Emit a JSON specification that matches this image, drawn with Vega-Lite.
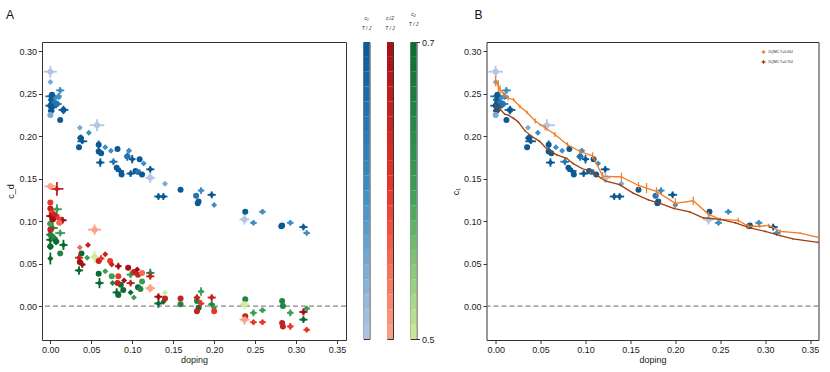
{
"$schema":"https://vega.github.io/schema/vega-lite/v6.json",
"padding":{"left":5,"top":8,"right":5,"bottom":5},
"bounds":"flush",
"spacing":17.5,
"resolve":{"scale":{"color":"independent","x":"independent","y":"independent"},"legend":{"color":"independent"}},
"config":{"font":"Liberation Sans","view":{"stroke":"#333","strokeWidth":1},"axis":{"domain":false,"grid":false,"tickColor":"#333","tickSize":3.5,"labelFont":"Liberation Sans","labelFontSize":9,"labelColor":"#222","titleFont":"Liberation Sans","titleFontSize":9,"titleFontWeight":"normal","titleColor":"#222","labelPadding":2},"legend":{"padding":0}},
"datasets":{
"cb":[
{"lo":0.50,"hi":0.51,"v":0.505},{"lo":0.51,"hi":0.52,"v":0.515},{"lo":0.52,"hi":0.53,"v":0.525},{"lo":0.53,"hi":0.54,"v":0.535},
{"lo":0.54,"hi":0.55,"v":0.545},{"lo":0.55,"hi":0.56,"v":0.555},{"lo":0.56,"hi":0.57,"v":0.565},{"lo":0.57,"hi":0.58,"v":0.575},
{"lo":0.58,"hi":0.59,"v":0.585},{"lo":0.59,"hi":0.60,"v":0.595},{"lo":0.60,"hi":0.61,"v":0.605},{"lo":0.61,"hi":0.62,"v":0.615},
{"lo":0.62,"hi":0.63,"v":0.625},{"lo":0.63,"hi":0.64,"v":0.635},{"lo":0.64,"hi":0.65,"v":0.645},{"lo":0.65,"hi":0.66,"v":0.655},
{"lo":0.66,"hi":0.67,"v":0.665},{"lo":0.67,"hi":0.68,"v":0.675},{"lo":0.68,"hi":0.69,"v":0.685},{"lo":0.69,"hi":0.70,"v":0.695}
],
"c1":[
{"d":0.000,"c":0.276,"T":0.5,"m":"o","ex":0.008,"ey":0.007},
{"d":0.000,"c":0.264,"T":0.55,"m":"D","ex":0,"ey":0},
{"d":0.000,"c":0.247,"T":0.65,"m":"D","ex":0.006,"ey":0.004},
{"d":0.002,"c":0.243,"T":0.7,"m":"o","ex":0.005,"ey":0.006},
{"d":0.004,"c":0.240,"T":0.65,"m":"D","ex":0.006,"ey":0.004},
{"d":0.000,"c":0.236,"T":0.7,"m":"o","ex":0.006,"ey":0.005},
{"d":0.003,"c":0.234,"T":0.7,"m":"D","ex":0.005,"ey":0.004},
{"d":0.001,"c":0.230,"T":0.7,"m":"o","ex":0.004,"ey":0.006},
{"d":0.006,"c":0.245,"T":0.6,"m":"D","ex":0.007,"ey":0.004},
{"d":0.008,"c":0.238,"T":0.65,"m":"o","ex":0.006,"ey":0.004},
{"d":0.010,"c":0.247,"T":0.6,"m":"D","ex":0.004,"ey":0.004},
{"d":0.000,"c":0.225,"T":0.55,"m":"o","ex":0,"ey":0},
{"d":0.002,"c":0.249,"T":0.7,"m":"o","ex":0,"ey":0},
{"d":0.012,"c":0.254,"T":0.6,"m":"D","ex":0.005,"ey":0.004},
{"d":0.016,"c":0.231,"T":0.7,"m":"o","ex":0.006,"ey":0.005},
{"d":0.012,"c":0.219,"T":0.7,"m":"o","ex":0,"ey":0},
{"d":0.036,"c":0.210,"T":0.55,"m":"D","ex":0,"ey":0},
{"d":0.057,"c":0.213,"T":0.5,"m":"o","ex":0.009,"ey":0.007},
{"d":0.047,"c":0.204,"T":0.6,"m":"D","ex":0,"ey":0},
{"d":0.037,"c":0.198,"T":0.7,"m":"o","ex":0.004,"ey":0.004},
{"d":0.039,"c":0.194,"T":0.7,"m":"D","ex":0.006,"ey":0.003},
{"d":0.035,"c":0.187,"T":0.7,"m":"o","ex":0,"ey":0},
{"d":0.059,"c":0.190,"T":0.7,"m":"o","ex":0.002,"ey":0.005},
{"d":0.059,"c":0.182,"T":0.7,"m":"o","ex":0,"ey":0},
{"d":0.062,"c":0.180,"T":0.7,"m":"o","ex":0,"ey":0},
{"d":0.061,"c":0.169,"T":0.7,"m":"D","ex":0.005,"ey":0.005},
{"d":0.067,"c":0.187,"T":0.6,"m":"D","ex":0,"ey":0},
{"d":0.074,"c":0.183,"T":0.6,"m":"D","ex":0,"ey":0},
{"d":0.082,"c":0.185,"T":0.7,"m":"o","ex":0,"ey":0},
{"d":0.077,"c":0.170,"T":0.65,"m":"D","ex":0.005,"ey":0.004},
{"d":0.081,"c":0.163,"T":0.7,"m":"o","ex":0,"ey":0},
{"d":0.085,"c":0.159,"T":0.7,"m":"D","ex":0.005,"ey":0.004},
{"d":0.087,"c":0.155,"T":0.7,"m":"o","ex":0,"ey":0},
{"d":0.096,"c":0.183,"T":0.6,"m":"D","ex":0.003,"ey":0.003},
{"d":0.094,"c":0.176,"T":0.65,"m":"o","ex":0.004,"ey":0.005},
{"d":0.100,"c":0.173,"T":0.7,"m":"D","ex":0.004,"ey":0.005},
{"d":0.109,"c":0.173,"T":0.7,"m":"o","ex":0,"ey":0},
{"d":0.098,"c":0.156,"T":0.7,"m":"D","ex":0.005,"ey":0.004},
{"d":0.104,"c":0.159,"T":0.7,"m":"o","ex":0,"ey":0},
{"d":0.107,"c":0.158,"T":0.65,"m":"o","ex":0,"ey":0},
{"d":0.114,"c":0.168,"T":0.6,"m":"D","ex":0,"ey":0},
{"d":0.112,"c":0.155,"T":0.7,"m":"o","ex":0,"ey":0},
{"d":0.122,"c":0.161,"T":0.7,"m":"D","ex":0.005,"ey":0.004},
{"d":0.122,"c":0.151,"T":0.5,"m":"o","ex":0.006,"ey":0.006},
{"d":0.140,"c":0.144,"T":0.55,"m":"D","ex":0,"ey":0},
{"d":0.132,"c":0.129,"T":0.7,"m":"D","ex":0.005,"ey":0.004},
{"d":0.138,"c":0.129,"T":0.7,"m":"D","ex":0.005,"ey":0.004},
{"d":0.159,"c":0.137,"T":0.7,"m":"o","ex":0,"ey":0},
{"d":0.178,"c":0.130,"T":0.65,"m":"o","ex":0.003,"ey":0.003},
{"d":0.184,"c":0.136,"T":0.6,"m":"D","ex":0.004,"ey":0.004},
{"d":0.181,"c":0.123,"T":0.7,"m":"o","ex":0,"ey":0},
{"d":0.180,"c":0.121,"T":0.7,"m":"o","ex":0,"ey":0},
{"d":0.197,"c":0.131,"T":0.7,"m":"D","ex":0.005,"ey":0.004},
{"d":0.200,"c":0.119,"T":0.6,"m":"D","ex":0,"ey":0},
{"d":0.238,"c":0.111,"T":0.7,"m":"o","ex":0,"ey":0},
{"d":0.237,"c":0.102,"T":0.5,"m":"o","ex":0.006,"ey":0.006},
{"d":0.248,"c":0.098,"T":0.6,"m":"D","ex":0.004,"ey":0.003},
{"d":0.259,"c":0.111,"T":0.6,"m":"D","ex":0.004,"ey":0.003},
{"d":0.283,"c":0.095,"T":0.7,"m":"o","ex":0,"ey":0},
{"d":0.282,"c":0.094,"T":0.7,"m":"o","ex":0,"ey":0},
{"d":0.293,"c":0.098,"T":0.6,"m":"D","ex":0.004,"ey":0.003},
{"d":0.309,"c":0.093,"T":0.7,"m":"D","ex":0.005,"ey":0.004},
{"d":0.313,"c":0.086,"T":0.6,"m":"D","ex":0.004,"ey":0.003}
],
"c2":[
{"d":0.000,"c":0.141,"T":0.5,"m":"o","ex":0.007,"ey":0.004},
{"d":0.008,"c":0.138,"T":0.65,"m":"D","ex":0.008,"ey":0.008},
{"d":0.000,"c":0.122,"T":0.6,"m":"o","ex":0,"ey":0},
{"d":0.000,"c":0.115,"T":0.65,"m":"o","ex":0,"ey":0},
{"d":0.002,"c":0.110,"T":0.6,"m":"o","ex":0.004,"ey":0.004},
{"d":0.000,"c":0.106,"T":0.7,"m":"D","ex":0.005,"ey":0.004},
{"d":0.005,"c":0.107,"T":0.65,"m":"o","ex":0.006,"ey":0.004},
{"d":0.009,"c":0.104,"T":0.6,"m":"D","ex":0.006,"ey":0.004},
{"d":0.003,"c":0.102,"T":0.7,"m":"o","ex":0.004,"ey":0.003},
{"d":0.015,"c":0.101,"T":0.7,"m":"D","ex":0.005,"ey":0.004},
{"d":0.011,"c":0.098,"T":0.55,"m":"o","ex":0.004,"ey":0.003},
{"d":0.000,"c":0.090,"T":0.65,"m":"o","ex":0,"ey":0},
{"d":0.054,"c":0.090,"T":0.5,"m":"o","ex":0.008,"ey":0.006},
{"d":0.036,"c":0.069,"T":0.55,"m":"D","ex":0,"ey":0},
{"d":0.046,"c":0.072,"T":0.65,"m":"D","ex":0,"ey":0},
{"d":0.035,"c":0.057,"T":0.65,"m":"D","ex":0.005,"ey":0.004},
{"d":0.036,"c":0.052,"T":0.7,"m":"o","ex":0,"ey":0},
{"d":0.039,"c":0.049,"T":0.7,"m":"D","ex":0.004,"ey":0.004},
{"d":0.059,"c":0.053,"T":0.65,"m":"o","ex":0,"ey":0},
{"d":0.062,"c":0.056,"T":0.6,"m":"D","ex":0.004,"ey":0.004},
{"d":0.067,"c":0.061,"T":0.65,"m":"D","ex":0,"ey":0},
{"d":0.073,"c":0.053,"T":0.6,"m":"o","ex":0,"ey":0},
{"d":0.075,"c":0.049,"T":0.65,"m":"D","ex":0,"ey":0},
{"d":0.083,"c":0.047,"T":0.7,"m":"D","ex":0.004,"ey":0.004},
{"d":0.083,"c":0.035,"T":0.6,"m":"o","ex":0,"ey":0},
{"d":0.082,"c":0.027,"T":0.65,"m":"o","ex":0,"ey":0},
{"d":0.090,"c":0.030,"T":0.7,"m":"D","ex":0,"ey":0},
{"d":0.095,"c":0.045,"T":0.7,"m":"o","ex":0,"ey":0},
{"d":0.098,"c":0.027,"T":0.65,"m":"D","ex":0.005,"ey":0.004},
{"d":0.102,"c":0.040,"T":0.65,"m":"o","ex":0,"ey":0},
{"d":0.106,"c":0.043,"T":0.7,"m":"D","ex":0,"ey":0},
{"d":0.107,"c":0.037,"T":0.65,"m":"o","ex":0,"ey":0},
{"d":0.112,"c":0.039,"T":0.55,"m":"o","ex":0.003,"ey":0.003},
{"d":0.122,"c":0.035,"T":0.65,"m":"D","ex":0.005,"ey":0.004},
{"d":0.122,"c":0.021,"T":0.5,"m":"o","ex":0.006,"ey":0.005},
{"d":0.132,"c":0.011,"T":0.7,"m":"D","ex":0.005,"ey":0.004},
{"d":0.140,"c":0.009,"T":0.65,"m":"o","ex":0,"ey":0},
{"d":0.159,"c":0.009,"T":0.65,"m":"o","ex":0,"ey":0},
{"d":0.179,"c":0.010,"T":0.65,"m":"D","ex":0.004,"ey":0.004},
{"d":0.179,"c":-0.006,"T":0.65,"m":"o","ex":0,"ey":0},
{"d":0.184,"c":0.003,"T":0.6,"m":"D","ex":0.004,"ey":0.004},
{"d":0.197,"c":0.010,"T":0.65,"m":"D","ex":0.005,"ey":0.004},
{"d":0.200,"c":-0.006,"T":0.6,"m":"o","ex":0,"ey":0},
{"d":0.238,"c":-0.012,"T":0.65,"m":"o","ex":0,"ey":0},
{"d":0.237,"c":-0.016,"T":0.5,"m":"o","ex":0.006,"ey":0.006},
{"d":0.248,"c":-0.019,"T":0.6,"m":"D","ex":0.004,"ey":0.003},
{"d":0.259,"c":-0.019,"T":0.6,"m":"D","ex":0.004,"ey":0.003},
{"d":0.283,"c":-0.020,"T":0.65,"m":"o","ex":0,"ey":0},
{"d":0.284,"c":-0.024,"T":0.65,"m":"o","ex":0,"ey":0},
{"d":0.293,"c":-0.024,"T":0.6,"m":"D","ex":0.004,"ey":0.004},
{"d":0.309,"c":-0.007,"T":0.7,"m":"D","ex":0.005,"ey":0.004},
{"d":0.313,"c":-0.028,"T":0.6,"m":"D","ex":0.004,"ey":0.003}
],
"c3":[
{"d":0.008,"c":0.114,"T":0.6,"m":"D","ex":0.006,"ey":0.006},
{"d":0.000,"c":0.097,"T":0.6,"m":"o","ex":0.004,"ey":0.004},
{"d":0.003,"c":0.092,"T":0.65,"m":"D","ex":0.006,"ey":0.004},
{"d":0.000,"c":0.084,"T":0.65,"m":"o","ex":0.005,"ey":0.003},
{"d":0.000,"c":0.078,"T":0.7,"m":"D","ex":0.005,"ey":0.005},
{"d":0.004,"c":0.080,"T":0.65,"m":"o","ex":0.005,"ey":0.004},
{"d":0.000,"c":0.070,"T":0.7,"m":"o","ex":0.004,"ey":0.004},
{"d":0.000,"c":0.056,"T":0.7,"m":"D","ex":0.003,"ey":0.007},
{"d":0.012,"c":0.086,"T":0.6,"m":"D","ex":0.006,"ey":0.004},
{"d":0.016,"c":0.072,"T":0.7,"m":"D","ex":0.005,"ey":0.006},
{"d":0.012,"c":0.062,"T":0.65,"m":"o","ex":0,"ey":0},
{"d":0.007,"c":0.076,"T":0.7,"m":"o","ex":0.004,"ey":0.004},
{"d":0.038,"c":0.062,"T":0.7,"m":"o","ex":0,"ey":0},
{"d":0.045,"c":0.057,"T":0.6,"m":"D","ex":0,"ey":0},
{"d":0.054,"c":0.058,"T":0.5,"m":"o","ex":0.005,"ey":0.007},
{"d":0.035,"c":0.042,"T":0.7,"m":"D","ex":0.005,"ey":0.005},
{"d":0.059,"c":0.038,"T":0.7,"m":"o","ex":0,"ey":0},
{"d":0.060,"c":0.027,"T":0.7,"m":"D","ex":0.005,"ey":0.006},
{"d":0.067,"c":0.041,"T":0.6,"m":"D","ex":0,"ey":0},
{"d":0.075,"c":0.035,"T":0.6,"m":"o","ex":0,"ey":0},
{"d":0.076,"c":0.027,"T":0.65,"m":"D","ex":0,"ey":0},
{"d":0.081,"c":0.016,"T":0.7,"m":"D","ex":0.005,"ey":0.005},
{"d":0.086,"c":0.025,"T":0.7,"m":"o","ex":0,"ey":0},
{"d":0.083,"c":0.013,"T":0.7,"m":"o","ex":0,"ey":0},
{"d":0.089,"c":0.019,"T":0.7,"m":"o","ex":0,"ey":0},
{"d":0.098,"c":0.037,"T":0.6,"m":"D","ex":0.005,"ey":0.004},
{"d":0.098,"c":0.016,"T":0.7,"m":"D","ex":0,"ey":0},
{"d":0.102,"c":0.010,"T":0.6,"m":"D","ex":0,"ey":0},
{"d":0.107,"c":0.022,"T":0.7,"m":"o","ex":0,"ey":0},
{"d":0.110,"c":0.020,"T":0.65,"m":"o","ex":0,"ey":0},
{"d":0.112,"c":0.029,"T":0.6,"m":"o","ex":0,"ey":0},
{"d":0.122,"c":0.039,"T":0.65,"m":"D","ex":0.005,"ey":0.005},
{"d":0.132,"c":0.003,"T":0.7,"m":"D","ex":0.005,"ey":0.005},
{"d":0.140,"c":0.016,"T":0.5,"m":"D","ex":0,"ey":0},
{"d":0.138,"c":0.005,"T":0.7,"m":"D","ex":0,"ey":0},
{"d":0.159,"c":0.002,"T":0.65,"m":"o","ex":0,"ey":0},
{"d":0.179,"c":0.006,"T":0.65,"m":"o","ex":0,"ey":0},
{"d":0.184,"c":0.017,"T":0.6,"m":"D","ex":0.004,"ey":0.005},
{"d":0.181,"c":-0.002,"T":0.7,"m":"o","ex":0,"ey":0},
{"d":0.197,"c":0.002,"T":0.65,"m":"D","ex":0.004,"ey":0.004},
{"d":0.200,"c":-0.002,"T":0.6,"m":"D","ex":0,"ey":0},
{"d":0.238,"c":0.008,"T":0.65,"m":"o","ex":0,"ey":0},
{"d":0.237,"c":0.002,"T":0.5,"m":"o","ex":0.006,"ey":0.006},
{"d":0.248,"c":-0.008,"T":0.6,"m":"D","ex":0.004,"ey":0.004},
{"d":0.259,"c":-0.005,"T":0.6,"m":"D","ex":0.004,"ey":0.003},
{"d":0.283,"c":0.006,"T":0.65,"m":"o","ex":0,"ey":0},
{"d":0.284,"c":0.000,"T":0.65,"m":"o","ex":0,"ey":0},
{"d":0.293,"c":-0.008,"T":0.6,"m":"D","ex":0.004,"ey":0.004},
{"d":0.309,"c":-0.016,"T":0.7,"m":"D","ex":0.005,"ey":0.004},
{"d":0.313,"c":-0.003,"T":0.6,"m":"D","ex":0.004,"ey":0.003}
],
"dqmc":[
{"s":"DQMC T=0.60J","d":0.000,"c":0.265,"e":0.006},
{"s":"DQMC T=0.60J","d":0.003,"c":0.259,"e":0.007},
{"s":"DQMC T=0.60J","d":0.005,"c":0.255,"e":0.005},
{"s":"DQMC T=0.60J","d":0.009,"c":0.249,"e":0.003},
{"s":"DQMC T=0.60J","d":0.014,"c":0.245,"e":0.003},
{"s":"DQMC T=0.60J","d":0.020,"c":0.243,"e":0.002},
{"s":"DQMC T=0.60J","d":0.027,"c":0.235,"e":0.002},
{"s":"DQMC T=0.60J","d":0.035,"c":0.228,"e":0.002},
{"s":"DQMC T=0.60J","d":0.044,"c":0.218,"e":0.003},
{"s":"DQMC T=0.60J","d":0.055,"c":0.210,"e":0.003},
{"s":"DQMC T=0.60J","d":0.066,"c":0.202,"e":0.003},
{"s":"DQMC T=0.60J","d":0.080,"c":0.190,"e":0.003},
{"s":"DQMC T=0.60J","d":0.094,"c":0.182,"e":0.003},
{"s":"DQMC T=0.60J","d":0.108,"c":0.177,"e":0.004},
{"s":"DQMC T=0.60J","d":0.119,"c":0.153,"e":0.005},
{"s":"DQMC T=0.60J","d":0.140,"c":0.152,"e":0.005},
{"s":"DQMC T=0.60J","d":0.159,"c":0.142,"e":0.004},
{"s":"DQMC T=0.60J","d":0.168,"c":0.139,"e":0.006},
{"s":"DQMC T=0.60J","d":0.179,"c":0.135,"e":0.005},
{"s":"DQMC T=0.60J","d":0.200,"c":0.121,"e":0.006},
{"s":"DQMC T=0.60J","d":0.220,"c":0.124,"e":0.005},
{"s":"DQMC T=0.60J","d":0.237,"c":0.108,"e":0.003},
{"s":"DQMC T=0.60J","d":0.250,"c":0.102,"e":0.002},
{"s":"DQMC T=0.60J","d":0.270,"c":0.101,"e":0.003},
{"s":"DQMC T=0.60J","d":0.281,"c":0.094,"e":0.003},
{"s":"DQMC T=0.60J","d":0.294,"c":0.094,"e":0.002},
{"s":"DQMC T=0.60J","d":0.304,"c":0.095,"e":0.002},
{"s":"DQMC T=0.60J","d":0.317,"c":0.088,"e":0.002},
{"s":"DQMC T=0.60J","d":0.339,"c":0.086,"e":0.001},
{"s":"DQMC T=0.60J","d":0.359,"c":0.081,"e":0.001},
{"s":"DQMC T=0.70J","d":0.000,"c":0.235,"e":0.003},
{"s":"DQMC T=0.70J","d":0.005,"c":0.232,"e":0.002},
{"s":"DQMC T=0.70J","d":0.010,"c":0.226,"e":0.001},
{"s":"DQMC T=0.70J","d":0.014,"c":0.225,"e":0.001},
{"s":"DQMC T=0.70J","d":0.020,"c":0.221,"e":0.001},
{"s":"DQMC T=0.70J","d":0.025,"c":0.217,"e":0.001},
{"s":"DQMC T=0.70J","d":0.033,"c":0.206,"e":0.001},
{"s":"DQMC T=0.70J","d":0.040,"c":0.200,"e":0.001},
{"s":"DQMC T=0.70J","d":0.049,"c":0.194,"e":0.001},
{"s":"DQMC T=0.70J","d":0.057,"c":0.185,"e":0.001},
{"s":"DQMC T=0.70J","d":0.068,"c":0.178,"e":0.001},
{"s":"DQMC T=0.70J","d":0.079,"c":0.174,"e":0.001},
{"s":"DQMC T=0.70J","d":0.086,"c":0.168,"e":0.001},
{"s":"DQMC T=0.70J","d":0.096,"c":0.162,"e":0.001},
{"s":"DQMC T=0.70J","d":0.106,"c":0.159,"e":0.001},
{"s":"DQMC T=0.70J","d":0.114,"c":0.153,"e":0.001},
{"s":"DQMC T=0.70J","d":0.123,"c":0.147,"e":0.001},
{"s":"DQMC T=0.70J","d":0.138,"c":0.143,"e":0.001},
{"s":"DQMC T=0.70J","d":0.153,"c":0.133,"e":0.001},
{"s":"DQMC T=0.70J","d":0.170,"c":0.125,"e":0.001},
{"s":"DQMC T=0.70J","d":0.183,"c":0.121,"e":0.001},
{"s":"DQMC T=0.70J","d":0.198,"c":0.115,"e":0.001},
{"s":"DQMC T=0.70J","d":0.216,"c":0.111,"e":0.001},
{"s":"DQMC T=0.70J","d":0.231,"c":0.104,"e":0.001},
{"s":"DQMC T=0.70J","d":0.250,"c":0.102,"e":0.001},
{"s":"DQMC T=0.70J","d":0.267,"c":0.098,"e":0.001},
{"s":"DQMC T=0.70J","d":0.283,"c":0.092,"e":0.001},
{"s":"DQMC T=0.70J","d":0.300,"c":0.088,"e":0.001},
{"s":"DQMC T=0.70J","d":0.317,"c":0.083,"e":0.001},
{"s":"DQMC T=0.70J","d":0.331,"c":0.079,"e":0.001},
{"s":"DQMC T=0.70J","d":0.359,"c":0.075,"e":0.001}
]
},
"hconcat":[
{
"width":304,"height":298,
"title":{"text":"A","anchor":"start","frame":"group","dx":-36,"offset":20,"fontSize":12,"fontWeight":"normal","font":"Liberation Sans","color":"#111"},
"resolve":{"scale":{"color":"independent"}},
"layer":[
{"data":{"values":[{"z":0}]},"mark":{"type":"rule","color":"#888","strokeDash":[5,3],"strokeWidth":1.2},
 "encoding":{"y":{"field":"z","type":"quantitative","title":"c_d","scale":{"domain":[-0.04,0.311],"nice":false,"zero":false},"axis":{"values":[0,0.05,0.1,0.15,0.2,0.25,0.3],"format":".2f","titlePadding":3}}}},
{"data":{"name":"c1"},
 "layer":[
 {"mark":{"type":"errorbar","thickness":1.8,"ticks":false},
  "encoding":{"x":{"field":"d","type":"quantitative","title":"doping","scale":{"domain":[-0.0102,0.361],"nice":false,"zero":false},"axis":{"values":[0,0.05,0.1,0.15,0.2,0.25,0.3,0.35],"format":".2f","titlePadding":1}},"xError":{"field":"ex"},"y":{"field":"c","type":"quantitative","title":"c_d"},
  "color":{"field":"T","type":"quantitative","scale":{"domain":[0.5,0.6,0.7],"range":["#b4c6e3","#3d8ec4","#0b5995"],"interpolate":"rgb"},"legend":null}}},
 {"mark":{"type":"errorbar","thickness":1.8,"ticks":false},
  "encoding":{"y":{"field":"c","type":"quantitative","title":"c_d"},"yError":{"field":"ey"},"x":{"field":"d","type":"quantitative","title":"doping"},
  "color":{"field":"T","type":"quantitative","scale":{"domain":[0.5,0.6,0.7],"range":["#b4c6e3","#3d8ec4","#0b5995"],"interpolate":"rgb"},"legend":null}}},
 {"mark":{"type":"point","filled":true,"size":36,"opacity":1},
  "encoding":{"x":{"field":"d","type":"quantitative","title":"doping"},"y":{"field":"c","type":"quantitative","title":"c_d"},
  "shape":{"field":"m","type":"nominal","scale":{"domain":["o","D"],"range":["circle","diamond"]},"legend":null},
  "color":{"field":"T","type":"quantitative","scale":{"domain":[0.5,0.6,0.7],"range":["#b4c6e3","#3d8ec4","#0b5995"],"interpolate":"rgb"},"legend":null}}}
 ]},
{"data":{"name":"c3"},
 "layer":[
 {"mark":{"type":"errorbar","thickness":1.8,"ticks":false},
  "encoding":{"x":{"field":"d","type":"quantitative","title":"doping"},"xError":{"field":"ex"},"y":{"field":"c","type":"quantitative","title":"c_d"},
  "color":{"field":"T","type":"quantitative","scale":{"domain":[0.5,0.6,0.7],"range":["#d0eb9b","#3a9f54","#0b6b32"],"interpolate":"rgb"},"legend":null}}},
 {"mark":{"type":"errorbar","thickness":1.8,"ticks":false},
  "encoding":{"y":{"field":"c","type":"quantitative","title":"c_d"},"yError":{"field":"ey"},"x":{"field":"d","type":"quantitative","title":"doping"},
  "color":{"field":"T","type":"quantitative","scale":{"domain":[0.5,0.6,0.7],"range":["#d0eb9b","#3a9f54","#0b6b32"],"interpolate":"rgb"},"legend":null}}},
 {"mark":{"type":"point","filled":true,"size":36,"opacity":1},
  "encoding":{"x":{"field":"d","type":"quantitative","title":"doping"},"y":{"field":"c","type":"quantitative","title":"c_d"},
  "shape":{"field":"m","type":"nominal","scale":{"domain":["o","D"],"range":["circle","diamond"]},"legend":null},
  "color":{"field":"T","type":"quantitative","scale":{"domain":[0.5,0.6,0.7],"range":["#d0eb9b","#3a9f54","#0b6b32"],"interpolate":"rgb"},"legend":null}}}
 ]},
{"data":{"name":"c2"},
 "layer":[
 {"mark":{"type":"errorbar","thickness":1.8,"ticks":false},
  "encoding":{"x":{"field":"d","type":"quantitative","title":"doping"},"xError":{"field":"ex"},"y":{"field":"c","type":"quantitative","title":"c_d"},
  "color":{"field":"T","type":"quantitative","scale":{"domain":[0.5,0.6,0.7],"range":["#fca386","#e8362b","#a50f15"],"interpolate":"rgb"},"legend":null}}},
 {"mark":{"type":"errorbar","thickness":1.8,"ticks":false},
  "encoding":{"y":{"field":"c","type":"quantitative","title":"c_d"},"yError":{"field":"ey"},"x":{"field":"d","type":"quantitative","title":"doping"},
  "color":{"field":"T","type":"quantitative","scale":{"domain":[0.5,0.6,0.7],"range":["#fca386","#e8362b","#a50f15"],"interpolate":"rgb"},"legend":null}}},
 {"mark":{"type":"point","filled":true,"size":36,"opacity":1},
  "encoding":{"x":{"field":"d","type":"quantitative","title":"doping"},"y":{"field":"c","type":"quantitative","title":"c_d"},
  "shape":{"field":"m","type":"nominal","scale":{"domain":["o","D"],"range":["circle","diamond"]},"legend":null},
  "color":{"field":"T","type":"quantitative","scale":{"domain":[0.5,0.6,0.7],"range":["#fca386","#e8362b","#a50f15"],"interpolate":"rgb"},"legend":null}}}
 ]}
]
},
{
"width":6,"height":297,
"data":{"name":"cb"},
"title":{"text":["c₁","T / J"],"fontSize":5,"fontStyle":"italic","fontWeight":"normal","lineHeight":10,"offset":11,"anchor":"middle","color":"#222","font":"Liberation Sans"},
"mark":{"type":"rect"},
"encoding":{
 "x":{"value":0},"x2":{"value":"width"},
 "y":{"field":"lo","type":"quantitative","scale":{"domain":[0.5,0.7],"nice":false,"zero":false},"axis":null},
 "y2":{"field":"hi"},
 "color":{"field":"v","type":"quantitative","scale":{"domain":[0.5,0.6,0.7],"range":["#b4c6e3","#3d8ec4","#0b5995"],"interpolate":"rgb"},"legend":null}
}
},
{
"width":6,"height":297,
"data":{"name":"cb"},
"title":{"text":["c√2","T / J"],"fontSize":5,"fontStyle":"italic","fontWeight":"normal","lineHeight":10,"offset":11,"anchor":"middle","color":"#222","font":"Liberation Sans"},
"mark":{"type":"rect"},
"encoding":{
 "x":{"value":0},"x2":{"value":"width"},
 "y":{"field":"lo","type":"quantitative","scale":{"domain":[0.5,0.7],"nice":false,"zero":false},"axis":null},
 "y2":{"field":"hi"},
 "color":{"field":"v","type":"quantitative","scale":{"domain":[0.5,0.6,0.7],"range":["#fca386","#e8362b","#a50f15"],"interpolate":"rgb"},"legend":null}
}
},
{
"width":6,"height":297,
"data":{"name":"cb"},
"title":{"text":["c₂","T / J"],"fontSize":5,"fontStyle":"italic","fontWeight":"normal","lineHeight":10,"offset":11,"anchor":"middle","color":"#222","font":"Liberation Sans"},
"mark":{"type":"rect"},
"encoding":{
 "x":{"value":0},"x2":{"value":"width"},
 "y":{"field":"lo","type":"quantitative","scale":{"domain":[0.5,0.7],"nice":false,"zero":false},"axis":{"orient":"right","values":[0.5,0.7],"format":".1f","tickSize":3,"labelPadding":2,"title":null,"labelFontSize":9}},
 "y2":{"field":"hi"},
 "color":{"field":"v","type":"quantitative","scale":{"domain":[0.5,0.6,0.7],"range":["#d0eb9b","#3a9f54","#0b6b32"],"interpolate":"rgb"},"legend":null}
}
},
{
"width":35,"height":298,
"view":{"stroke":null},
"data":{"values":[]},
"mark":{"type":"point","opacity":0},
"encoding":{}
},
{
"width":332,"height":298,
"title":{"text":"B","anchor":"start","frame":"group","dx":-12,"offset":20,"fontSize":12,"fontWeight":"normal","font":"Liberation Sans","color":"#111"},
"resolve":{"scale":{"color":"independent"},"legend":{"color":"independent"}},
"layer":[
{"data":{"values":[{"z":0}]},"mark":{"type":"rule","color":"#888","strokeDash":[5,3],"strokeWidth":1.2},
 "encoding":{"y":{"field":"z","type":"quantitative","title":"c₁","scale":{"domain":[-0.04,0.311],"nice":false,"zero":false},"axis":{"values":[0,0.05,0.1,0.15,0.2,0.25,0.3],"format":".2f","titlePadding":3}}}},
{"data":{"name":"c1"},
 "layer":[
 {"mark":{"type":"errorbar","thickness":1.8,"ticks":false},
  "encoding":{"x":{"field":"d","type":"quantitative","title":"doping","scale":{"domain":[-0.0102,0.3594],"nice":false,"zero":false},"axis":{"values":[0,0.05,0.1,0.15,0.2,0.25,0.3,0.35],"format":".2f","titlePadding":1}},"xError":{"field":"ex"},"y":{"field":"c","type":"quantitative","title":"c₁"},
  "color":{"field":"T","type":"quantitative","scale":{"domain":[0.5,0.6,0.7],"range":["#b4c6e3","#3d8ec4","#0b5995"],"interpolate":"rgb"},"legend":null}}},
 {"mark":{"type":"errorbar","thickness":1.8,"ticks":false},
  "encoding":{"y":{"field":"c","type":"quantitative","title":"c₁"},"yError":{"field":"ey"},"x":{"field":"d","type":"quantitative","title":"doping"},
  "color":{"field":"T","type":"quantitative","scale":{"domain":[0.5,0.6,0.7],"range":["#b4c6e3","#3d8ec4","#0b5995"],"interpolate":"rgb"},"legend":null}}},
 {"mark":{"type":"point","filled":true,"size":36,"opacity":1},
  "encoding":{"x":{"field":"d","type":"quantitative","title":"doping"},"y":{"field":"c","type":"quantitative","title":"c₁"},
  "shape":{"field":"m","type":"nominal","scale":{"domain":["o","D"],"range":["circle","diamond"]},"legend":null},
  "color":{"field":"T","type":"quantitative","scale":{"domain":[0.5,0.6,0.7],"range":["#b4c6e3","#3d8ec4","#0b5995"],"interpolate":"rgb"},"legend":null}}}
 ]},
{"data":{"name":"dqmc"},
 "layer":[
 {"mark":{"type":"line","strokeWidth":1.3,"clip":true},
  "encoding":{"x":{"field":"d","type":"quantitative","title":"doping"},"y":{"field":"c","type":"quantitative","title":"c₁"},"detail":{"field":"s"},
  "color":{"field":"s","type":"nominal","scale":{"domain":["DQMC T=0.60J","DQMC T=0.70J"],"range":["#f37b20","#a13f0c"]},
   "legend":{"orient":"none","legendX":274,"legendY":7,"title":null,"labelFontSize":3.5,"labelFont":"Liberation Sans","labelColor":"#222","symbolType":"M-1,0H1M0,-1V1","symbolSize":14,"symbolStrokeWidth":1.3,"rowPadding":0,"labelOffset":2}}}},
 {"mark":{"type":"errorbar","thickness":1.2,"ticks":false},
  "encoding":{"y":{"field":"c","type":"quantitative","title":"c₁"},"yError":{"field":"e"},"x":{"field":"d","type":"quantitative","title":"doping"},
  "color":{"field":"s","type":"nominal","scale":{"domain":["DQMC T=0.60J","DQMC T=0.70J"],"range":["#f37b20","#a13f0c"]}}}}
 ]}
]
}
]
}
